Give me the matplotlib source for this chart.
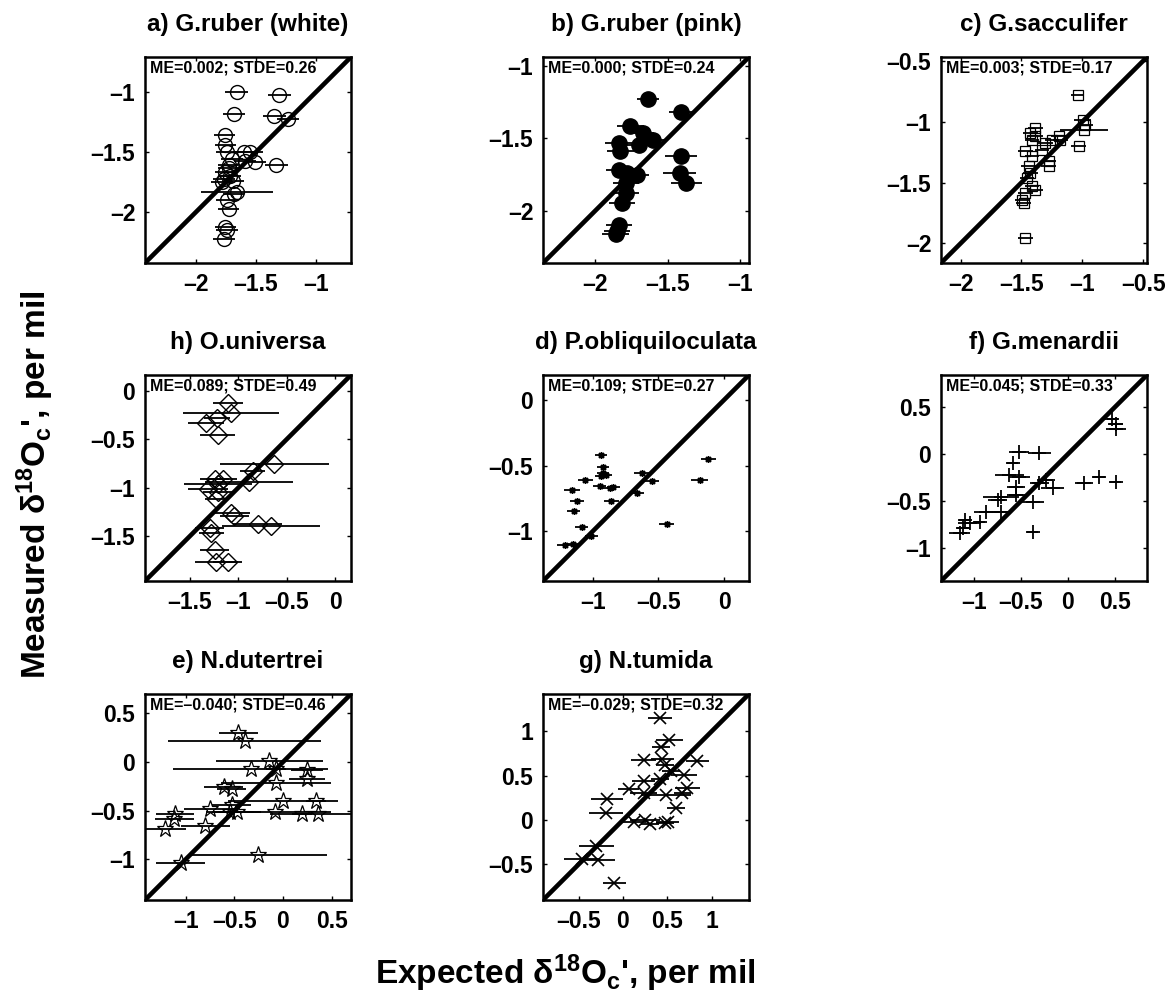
import matplotlib
matplotlib.use("Agg")
import matplotlib.pyplot as plt

plt.rcParams['font.family'] = ['Liberation Sans', 'DejaVu Sans']
plt.rcParams['font.weight'] = 'bold'
plt.rcParams['mathtext.fontset'] = 'custom'
plt.rcParams['mathtext.rm'] = 'Liberation Sans:bold'
plt.rcParams['mathtext.it'] = 'Liberation Sans:bold'
plt.rcParams['mathtext.bf'] = 'Liberation Sans:bold'

# ---------------- data ----------------
a_x = [-1.658, -1.307, -1.680, -1.348, -1.233, -1.760, -1.753, -1.740, -1.600, -1.548, -1.507, -1.589, -1.329,
       -1.726, -1.753, -1.712, -1.767, -1.780, -1.658, -1.685, -1.740, -1.726, -1.753, -1.740, -1.767, -1.700,
       -1.720, -1.690]
a_y = [-1.000, -1.028, -1.180, -1.200, -1.225, -1.360, -1.444, -1.500, -1.500, -1.500, -1.583, -1.570, -1.610,
       -1.610, -1.667, -1.694, -1.720, -1.750, -1.833, -1.847, -1.900, -1.970, -2.125, -2.150, -2.220, -1.560,
       -1.630, -1.740]
a_e = [0.096, 0.096, 0.092, 0.096, 0.093, 0.09, 0.09, 0.09, 0.09, 0.11, 0.09, 0.09, 0.096,
       0.09, 0.09, 0.09, 0.09, 0.09, 0.30, 0.09, 0.09, 0.09, 0.09, 0.09, 0.09, 0.09, 0.09, 0.09]

b_x = [-1.633, -1.407, -1.760, -1.674, -1.605, -1.698, -1.837, -1.826, -1.407, -1.837, -1.779, -1.709, -1.419,
       -1.372, -1.790, -1.790, -1.814, -1.837, -1.849, -1.860]
b_y = [-1.227, -1.318, -1.416, -1.466, -1.511, -1.545, -1.534, -1.590, -1.625, -1.716, -1.739, -1.750, -1.739,
       -1.807, -1.807, -1.875, -1.943, -2.100, -2.136, -2.159]
b_e = [0.076, 0.087, 0.093, 0.08, 0.08, 0.08, 0.093, 0.09, 0.11, 0.09, 0.09, 0.081, 0.116,
       0.105, 0.09, 0.09, 0.09, 0.09, 0.09, 0.09]

c_x = [-1.038, -0.997, -0.975, -0.989, -1.030, -1.385, -1.426, -1.413, -1.385, -1.249, -1.180, -1.194, -1.303,
       -1.467, -1.413, -1.276, -1.276, -1.440, -1.426, -1.454, -1.413, -1.385, -1.467, -1.495, -1.481, -1.467,
       -1.331]
c_y = [-0.781, -0.985, -1.026, -1.067, -1.204, -1.054, -1.095, -1.149, -1.120, -1.149, -1.149, -1.122, -1.176,
       -1.244, -1.285, -1.326, -1.367, -1.367, -1.422, -1.463, -1.531, -1.558, -1.585, -1.640, -1.667, -1.954,
       -1.231]
c_e = [0.055, 0.068, 0.06, 0.198, 0.06, 0.06, 0.06, 0.06, 0.06, 0.06, 0.06, 0.06, 0.06,
       0.06, 0.06, 0.06, 0.06, 0.06, 0.06, 0.06, 0.06, 0.06, 0.06, 0.06, 0.06, 0.062, 0.06]

h_x = [-1.108, -1.074, -1.217, -1.330, -1.210, -0.631, -0.852, -1.244, -1.159, -0.893, -1.210, -1.313, -1.210,
       -1.227, -1.074, -1.040, -0.801, -0.665, -1.296, -1.279, -1.244, -1.227, -1.108]
h_y = [-0.128, -0.233, -0.285, -0.337, -0.458, -0.753, -0.823, -0.910, -0.910, -0.944, -0.962, -1.014, -1.049,
       -1.118, -1.257, -1.292, -1.378, -1.396, -1.413, -1.465, -1.639, -1.760, -1.767]
h_e = [0.153, 0.494, 0.136, 0.187, 0.179, 0.562, 0.128, 0.153, 0.15, 0.452, 0.349, 0.204, 0.15,
       0.12, 0.196, 0.15, 0.256, 0.503, 0.153, 0.13, 0.145, 0.222, 0.15]

d_x = [-0.941, -0.923, -0.923, -0.936, -0.897, -1.059, -0.949, -0.872, -0.846, -1.159, -1.121, -0.859, -1.146,
       -1.085, -1.013, -1.213, -1.154, -0.623, -0.551, -0.662, -0.436, -0.121, -0.185]
d_y = [-0.423, -0.514, -0.557, -0.582, -0.570, -0.613, -0.653, -0.671, -0.666, -0.689, -0.767, -0.767, -0.848,
       -0.967, -1.038, -1.106, -1.101, -0.557, -0.615, -0.709, -0.944, -0.451, -0.608]
d_e = [0.045, 0.045, 0.045, 0.045, 0.045, 0.058, 0.05, 0.05, 0.05, 0.064, 0.05, 0.058, 0.05,
       0.05, 0.05, 0.064, 0.05, 0.064, 0.058, 0.05, 0.058, 0.058, 0.064]

f_x = [0.472, 0.507, 0.507, -0.516, -0.305, -0.587, -0.622, -0.516, -0.234, -0.305, 0.172, 0.331, 0.507,
       -0.163, -0.552, -0.552, -0.711, -0.746, -0.375, -0.869, -0.711, -0.375, -0.940, -1.046, -1.099, -1.152,
       -1.116]
f_y = [0.376, 0.324, 0.271, 0.024, 0.013, -0.100, -0.224, -0.241, -0.277, -0.312, -0.312, -0.241, -0.294,
       -0.365, -0.347, -0.435, -0.453, -0.488, -0.506, -0.612, -0.612, -0.824, -0.718, -0.735, -0.700, -0.841,
       -0.788]
f_e = [0.06, 0.08, 0.106, 0.106, 0.124, 0.06, 0.159, 0.115, 0.097, 0.1, 0.097, 0.06, 0.06,
       0.124, 0.1, 0.1, 0.194, 0.1, 0.124, 0.132, 0.1, 0.06, 0.06, 0.124, 0.06, 0.115, 0.06]

e_x = [-0.461, -0.393, -0.140, -0.333, -0.073, 0.247, 0.247, -0.073, -0.612, -0.528, 0.004, 0.341, -0.528,
       -0.747, -0.545, -0.478, -0.083, 0.196, 0.365, -1.108, -1.118, -0.798, -1.219, -0.259, -1.051]
e_y = [0.303, 0.214, 0.007, -0.069, -0.069, -0.086, -0.172, -0.214, -0.259, -0.276, -0.397, -0.397, -0.441,
       -0.483, -0.510, -0.517, -0.510, -0.534, -0.534, -0.534, -0.586, -0.655, -0.690, -0.959, -1.041]
e_e = [0.202, 0.787, 0.548, 0.80, 0.10, 0.169, 0.185, 0.565, 0.202, 0.15, 0.565, 0.10, 0.202,
       0.27, 0.25, 0.25, 0.573, 0.10, 0.497, 0.194, 0.20, 0.253, 0.219, 0.716, 0.253]

g_x = [0.415, 0.524, 0.433, 0.232, 0.444, 0.470, 0.836, 0.543, 0.689, 0.415, 0.232, 0.067, 0.726,
       0.232, 0.488, 0.671, -0.178, -0.189, 0.598, 0.122, 0.250, 0.305, 0.470, 0.506, -0.299, -0.463,
       -0.280, -0.098]
g_y = [1.146, 0.904, 0.827, 0.673, 0.692, 0.615, 0.662, 0.558, 0.508, 0.462, 0.442, 0.354, 0.365,
       0.308, 0.288, 0.308, 0.238, 0.085, 0.135, -0.027, 0.000, -0.046, -0.038, -0.019, -0.288, -0.442,
       -0.454, -0.712]
g_e = [0.137, 0.155, 0.10, 0.146, 0.128, 0.10, 0.128, 0.10, 0.146, 0.10, 0.128, 0.119, 0.137,
       0.155, 0.284, 0.10, 0.183, 0.192, 0.10, 0.137, 0.165, 0.10, 0.10, 0.128, 0.201, 0.201,
       0.192, 0.128]

titles = ["a) G.ruber (white)", "b) G.ruber (pink)", "c) G.sacculifer",
          "h) O.universa", "d) P.obliquiloculata", "f) G.menardii",
          "e) N.dutertrei", "g) N.tumida"]
stats = ["ME=0.002; STDE=0.26", "ME=0.000; STDE=0.24", "ME=0.003; STDE=0.17",
         "ME=0.089; STDE=0.49", "ME=0.109; STDE=0.27", "ME=0.045; STDE=0.33",
         "ME=\u20130.040; STDE=0.46", "ME=\u20130.029; STDE=0.32"]
limits = [(-2.42, -0.71), (-2.36, -0.94), (-2.16, -0.47),
          (-1.96, 0.16), (-1.38, 0.19), (-1.35, 0.84),
          (-1.42, 0.70), (-0.90, 1.42)]
ticks = [[-2, -1.5, -1], [-2, -1.5, -1], [-2, -1.5, -1, -0.5],
         [-1.5, -1, -0.5, 0], [-1, -0.5, 0], [-1, -0.5, 0, 0.5],
         [-1, -0.5, 0, 0.5], [-0.5, 0, 0.5, 1]]

series = [(a_x, a_y, a_e), (b_x, b_y, b_e), (c_x, c_y, c_e),
          (h_x, h_y, h_e), (d_x, d_y, d_e), (f_x, f_y, f_e),
          (e_x, e_y, e_e), (g_x, g_y, g_e)]

# marker styles: (marker, size, facecolor, edgewidth)
styles = [('o', 10, 'none', 1.0), ('o', 11, 'k', 1.0), ('s', 7.5, 'none', 0.9),
          ('D', 9, 'none', 1.0), ((8, 2, 0), 5, 'k', 1.0), ('+', 10, 'none', 1.3),
          ('*', 12.5, 'none', 0.9), ('x', 8, 'none', 1.2)]

def fmt(v):
    s = ('%g' % v)
    return s.replace('-', '\u2013')

fig = plt.figure(figsize=(11.68, 10.0), dpi=100)
col_left = [145 / 1168, 543 / 1168, 941 / 1168]
row_bottom = [1 - 263 / 1000, 1 - 581 / 1000, 1 - 900 / 1000]
w = 206 / 1168
h = 206 / 1000

for i in range(8):
    r, c = divmod(i, 3)
    ax = fig.add_axes([col_left[c], row_bottom[r], w, h])
    lo, hi = limits[i]
    x, y, e = series[i]
    mk, ms, mfc, mew = styles[i]
    ax.plot([lo, hi], [lo, hi], color='k', lw=3.3, zorder=1, solid_capstyle='butt')
    ax.errorbar(x, y, xerr=e, fmt='none', ecolor='k', elinewidth=1.3, capsize=0, zorder=2)
    ax.plot(x, y, linestyle='none', marker=mk, ms=ms, mfc=mfc, mec='k', mew=mew, zorder=3)
    ax.set_xlim(lo, hi)
    ax.set_ylim(lo, hi)
    ax.set_xticks(ticks[i])
    ax.set_yticks(ticks[i])
    ax.set_xticklabels([fmt(t) for t in ticks[i]])
    ax.set_yticklabels([fmt(t) for t in ticks[i]])
    ax.tick_params(direction='in', length=3, width=1, top=True, right=True,
                   labelsize=16.5, pad=7)
    for lab in ax.get_xticklabels() + ax.get_yticklabels():
        lab.set_fontweight('bold')
    for sp in ax.spines.values():
        sp.set_linewidth(1.8)
    ax.set_title(titles[i], fontsize=17.5, fontweight='bold', pad=19)
    ax.text(0.025, 0.985, stats[i], transform=ax.transAxes, ha='left', va='top',
            fontsize=11.5, fontweight='bold', zorder=5)

fig.text(0.03, 0.515, "Measured \u03b4$^{18}$O$_{c}$', per mil", rotation=90,
         ha='center', va='center', fontsize=24, fontweight='bold')
fig.text(0.484, 0.027, "Expected \u03b4$^{18}$O$_{c}$', per mil",
         ha='center', va='center', fontsize=24, fontweight='bold')

fig.savefig('out.png', dpi=100)
